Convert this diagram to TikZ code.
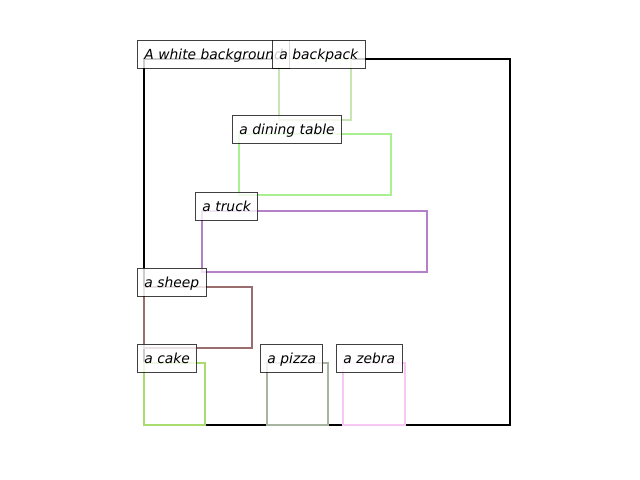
\documentclass[tikz,border=0pt]{standalone}
\usepackage{fontspec}
\setmainfont{DejaVu Sans}
\usepackage{xcolor}
\usepackage{tikz}
\usetikzlibrary{positioning}

\definecolor{cbackpack}{HTML}{C8E4B0}
\definecolor{ctable}{HTML}{A8F090}
\definecolor{ctruck}{HTML}{B480C8}
\definecolor{csheep}{HTML}{9A6E6E}
\definecolor{ccake}{HTML}{A8DC6E}
\definecolor{cpizza}{HTML}{A8B4A0}
\definecolor{czebra}{HTML}{F8C8F4}

\tikzset{
  tag/.style={draw=black, draw opacity=0.75, fill=white, fill opacity=0.8, text opacity=1,
    line width=0.7pt, inner xsep=5pt, inner ysep=4.2pt, text height=10.2pt, text depth=1.6pt,
    anchor=base west, xshift=-5pt, yshift=-0.72pt, font=\itshape\fontsize{10}{12}\selectfont},
  region/.style={line width=1.6pt}
}

\begin{document}
\begin{tikzpicture}[x=0.01in, y=-0.01in]
    \useasboundingbox (0,0) rectangle (640,480);
    % regions
    \draw[region, black] (144,59) rectangle (510,425);
    \draw[region, cbackpack] (279,59) rectangle (351,120);
    \draw[region, ctable] (239,134) rectangle (391,195);
    \draw[region, ctruck] (202,211) rectangle (427,272);
    \draw[region, csheep] (144,287) rectangle (252,348);
    \draw[region, ccake] (144,363) rectangle (205,425);
    \draw[region, cpizza] (267,363) rectangle (328,425);
    \draw[region, czebra] (343,363) rectangle (405,425);
    % labels
    \node[tag] (bg) at (144,59) {A white background};
    \node[tag] (backpack) at (279,59) {a backpack};
    \node[tag] (table) at (239,134) {a dining table};
    \node[tag] (truck) at (202,211) {a truck};
    \node[tag] (sheep) at (144,287) {a sheep};
    \node[tag] (cake) at (144,363) {a cake};
    \node[tag] (pizza) at (267,363) {a pizza};
    \node[tag] (zebra) at (343,363) {a zebra};
\end{tikzpicture}
\end{document}
